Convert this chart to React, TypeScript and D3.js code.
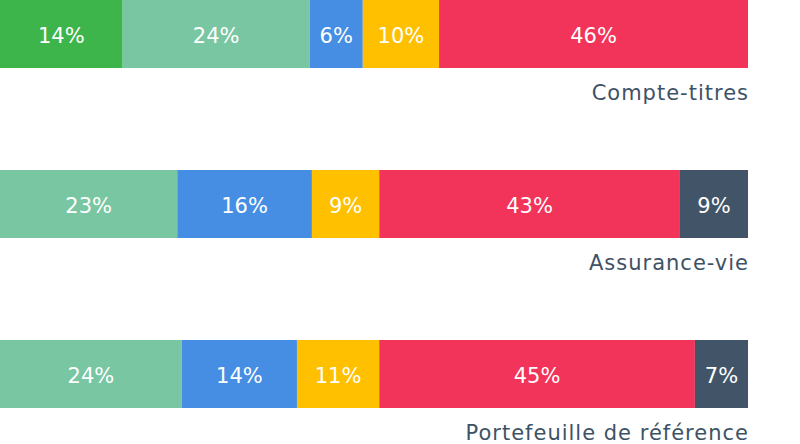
import React from "react";
import * as d3 from "d3";

const categories = ["Compte-titres", "Assurance-vie", "Portefeuille de référence"];
const seriesNames = ["Vert", "Turquoise", "Bleu", "Jaune", "Rouge", "Ardoise"];
const seriesColors = ["#3db54a", "#79c6a2", "#458ee3", "#ffc000", "#f2335a", "#425568"];
// segment sizes (shares, as drawn)
const compteTitres = [16.4, 25.0, 7.1, 10.2, 41.3, 0];
const assuranceVie = [0, 23.7, 18.0, 9.0, 40.2, 9.1];
const portefeuille = [0, 24.3, 15.4, 11.0, 42.2, 7.1];
// displayed labels
const compteTitresLabels = ["14%", "24%", "6%", "10%", "46%", ""];
const assuranceVieLabels = ["", "23%", "16%", "9%", "43%", "9%"];
const portefeuilleLabels = ["", "24%", "14%", "11%", "45%", "7%"];

const values = [compteTitres, assuranceVie, portefeuille];
const labels = [compteTitresLabels, assuranceVieLabels, portefeuilleLabels];

const W = 800;
const H = 444;
const FONT = "'DejaVu Sans', sans-serif";

export default function App() {
  const x = d3.scaleLinear().domain([0, 100]).range([0, 748]);
  const y = d3.scaleBand<string>().domain(categories).range([0, 408]).paddingInner(0.6).paddingOuter(0);

  return (
    <svg width={W} height={H} style={{ position: "absolute", left: 0, top: 0 }}>
      {categories.map((cat, ci) => {
        const row = values[ci];
        const total = d3.sum(row);
        const cum = d3.cumsum(row);
        const y0 = y(cat)!;
        const bw = y.bandwidth();
        return (
          <g key={cat}>
            {row.map((v, si) => {
              if (v <= 0) return null;
              const start = ((cum[si] - v) / total) * 100;
              const end = (cum[si] / total) * 100;
              const x0 = x(start);
              const x1 = x(end);
              return (
                <g key={si}>
                  <rect x={x0} y={y0} width={x1 - x0} height={bw} fill={seriesColors[si]} />
                  <text
                    x={(x0 + x1) / 2}
                    y={y0 + bw / 2 + 9}
                    textAnchor="middle"
                    fill="#ffffff"
                    fontFamily={FONT}
                    fontSize={21}
                  >
                    {labels[ci][si]}
                  </text>
                </g>
              );
            })}
            <text
              x={x(100) + 1}
              y={y0 + bw + 32}
              textAnchor="end"
              fill="#3e5266"
              fontFamily={FONT}
              fontSize={21}
              letterSpacing={1}
            >
              {cat}
            </text>
          </g>
        );
      })}
    </svg>
  );
}
